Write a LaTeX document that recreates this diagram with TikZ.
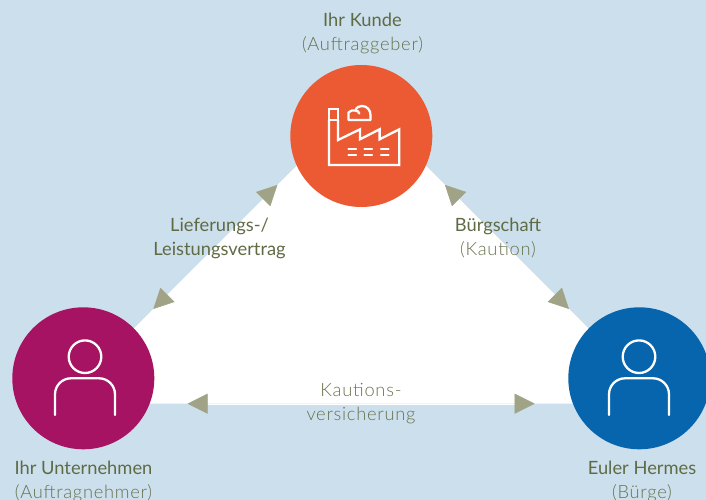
\documentclass[tikz,border=0pt]{standalone}
\usepackage{fontspec}
\setmainfont{Lato}
\newfontfamily\lightfont[LetterSpace=4]{Lato Light}
\usepackage{xcolor}
\usetikzlibrary{arrows.meta}
\definecolor{bgblue}{RGB}{204,223,236}
\definecolor{factoryred}{RGB}{236,90,52}
\definecolor{firmmagenta}{RGB}{166,19,98}
\definecolor{hermesblue}{RGB}{7,101,174}
\definecolor{tipgreen}{RGB}{160,163,134}
\definecolor{titlegreen}{RGB}{95,107,69}
\definecolor{subgreen}{RGB}{104,114,78}

\begin{document}
\begin{tikzpicture}[x=1pt,y=-1pt,
    party/.style={circle, minimum size=142pt, inner sep=0pt},
    link/.style={white, line width=0.4pt,
      {Triangle[length=20pt,width=20pt,color=tipgreen]}-{Triangle[length=20pt,width=20pt,color=tipgreen]}},
    icon/.style={white, line width=2.3pt, line cap=round, line join=round},
    caption/.style={font=\fontsize{18.3}{24}\selectfont, text=titlegreen, align=center, inner sep=0pt},
    sub/.style={font=\lightfont\fontsize{18.3}{24}\selectfont, text=subgreen},
    person/.pic={
      \draw[icon] (0,-21.6) circle (16.3);
      \draw[icon, rounded corners=16pt] (-30,36.7) -- (-30,0) -- (30,0) -- (30,36.7);
    }]
    \useasboundingbox (0,0) rectangle (706,500);
    \fill[bgblue] (0,0) rectangle (706,500);
    % white triangle behind the three parties
    \coordinate (apex) at (361.15,101.15);
    \coordinate (lcorner) at (58.6,403.7);
    \coordinate (rcorner) at (663.7,403.7);
    \fill[white] (apex) -- (lcorner) -- (rcorner) -- cycle;
    \draw[link, shorten <=118.5pt, shorten >=134pt] (apex) -- (lcorner);
    \draw[link, shorten <=118.5pt, shorten >=134pt] (apex) -- (rcorner);
    \draw[link, shorten <=129pt, shorten >=129pt] (lcorner) -- (rcorner);
    % parties
    \node[party, fill=factoryred] (kunde) at (361.3,136) {};
    \node[party, fill=firmmagenta] (firma) at (83.3,378.3) {};
    \node[party, fill=hermesblue] (hermes) at (639.3,378.3) {};
    \pic at (85,378.3) {person};
    \pic at (639,378.3) {person};
    % factory icon
    \draw[icon, line join=miter] (329,120) -- (329,165) -- (399.3,165) -- (399.3,129.3)
      -- (379.6,139.3) -- (379.6,129.3) -- (360,139.3) -- (360,129.3) -- (338,140) -- (338,120);
    \draw[icon, line join=miter] (329,109.3) rectangle (338,120);
    \draw[icon] (348.5,120) -- (348.5,112.5) .. controls (350,110.5) and (353,110) .. (355.5,110.5)
      .. controls (356.5,107) and (359,106) .. (362,106)
      .. controls (367,106) and (370.5,110) .. (370.5,115) -- (370.5,120) -- cycle;
    \draw[icon] (355.5,110.5) .. controls (357.5,110.5) and (359,112) .. (359.3,113.5);
    \foreach \x in {348.5,364.5,381}{
      \draw[icon] (\x,149) -- ++(7.5,0);
      \draw[icon] (\x,155) -- ++(7.5,0);
    }
    % captions
    \node[caption] (kundetext) at (362.5,33) {Ihr Kunde\\{\lightfont\color{subgreen}(Auftraggeber)}};
    \node[caption] (firmatext) at (83.5,481) {Ihr Unternehmen\\{\lightfont\color{subgreen}(Auftragnehmer)}};
    \node[caption] (hermestext) at (642,481) {Euler Hermes\\{\lightfont\color{subgreen}(Bürge)}};
    \node[caption] (vertrag) at (219.5,238.5) {Lieferungs-/\\Leistungsvertrag};
    \node[caption] (kaution) at (498,238) {Bürgschaft\\{\lightfont\color{subgreen}(Kaution)}};
    \node[caption, sub] (versicherung) at (361,404) {Kautions-\\versicherung};
\end{tikzpicture}
\end{document}
